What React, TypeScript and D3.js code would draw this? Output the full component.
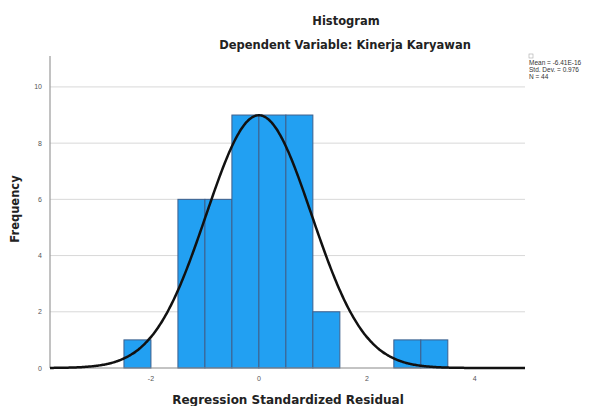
import React from "react";
import * as d3 from "d3";

const binStarts = [-2.5, -1.5, -1.0, -0.5, 0.0, 0.5, 1.0, 2.5, 3.0];
const counts = [1, 6, 6, 9, 9, 9, 2, 1, 1];
const binWidth = 0.5;
const xTicks = [-2, 0, 2, 4];
const yTicks = [0, 2, 4, 6, 8, 10];
const mean = 0;
const sd = 0.976;
const n = 44;
const legendLines = ["Mean = -6.41E-16", "Std. Dev. = 0.976", "N = 44"];

const W = 616, H = 406;
const left = 50, right = 525, top = 56, bottom = 368;

export default function App() {
  const x = d3.scaleLinear().domain([-3.87, 4.93]).range([left, right]);
  const y = d3.scaleLinear().domain([0, 11.1]).range([bottom, top]);
  const pts = d3.range(-3.87, 4.931, 0.02).map((v) => {
    const dens = Math.exp(-0.5 * ((v - mean) / sd) ** 2) / (sd * Math.sqrt(2 * Math.PI));
    return [v, dens * n * binWidth] as [number, number];
  });
  const line = d3.line<[number, number]>().x((d) => x(d[0])).y((d) => y(d[1])).curve(d3.curveBasis);
  const font = "Arial, 'Liberation Sans', sans-serif";
  const tfont = "'DejaVu Sans', sans-serif";
  return (
    <svg width={W} height={H} style={{ position: "absolute", left: 0, top: 0, background: "#fff" }} fontFamily={font}>
      <rect width={W} height={H} fill="#fff" />
      <text x={346} y={25} textAnchor="middle" fontFamily={tfont} fontWeight="bold" fontSize={11.5} fill="#222">Histogram</text>
      <text x={345} y={49} textAnchor="middle" fontFamily={tfont} fontWeight="bold" fontSize={11.5} fill="#222">Dependent Variable: Kinerja Karyawan</text>
      {yTicks.filter((t) => t > 0).map((t) => (
        <line key={t} x1={left} x2={right} y1={y(t)} y2={y(t)} stroke="#d8d8d8" strokeWidth={1} />
      ))}
      {binStarts.map((b, i) => (
        <rect key={i} x={x(b)} y={y(counts[i])} width={x(b + binWidth) - x(b)} height={y(0) - y(counts[i])}
          fill="#22a0f2" stroke="#3d5f8c" strokeWidth={1} />
      ))}
      <line x1={left} x2={left} y1={top} y2={bottom} stroke="#999" strokeWidth={1.2} />
      <line x1={left} x2={right} y1={bottom} y2={bottom} stroke="#888" strokeWidth={1} />
      <path d={line(pts) || ""} fill="none" stroke="#111" strokeWidth={2.5} />
      {yTicks.map((t) => (
        <text key={t} x={left - 8} y={y(t) + 2.5} textAnchor="end" fontSize={7} fill="#555">{t}</text>
      ))}
      {xTicks.map((t) => (
        <text key={t} x={x(t)} y={bottom + 13} textAnchor="middle" fontSize={7} fill="#555">{t}</text>
      ))}
      <text transform={`translate(19,209) rotate(-90)`} textAnchor="middle" fontFamily={tfont} fontWeight="bold" fontSize={11.5} fill="#222">Frequency</text>
      <text x={288} y={404} textAnchor="middle" fontFamily={tfont} fontWeight="bold" fontSize={12} fill="#222">Regression Standardized Residual</text>
      <rect x={529} y={54} width={4} height={4} fill="none" stroke="#aaa" strokeWidth={0.6} />
      {legendLines.map((l, i) => (
        <text key={i} x={529} y={65 + i * 7} fontSize={6.5} fill="#333">{l}</text>
      ))}
    </svg>
  );
}
